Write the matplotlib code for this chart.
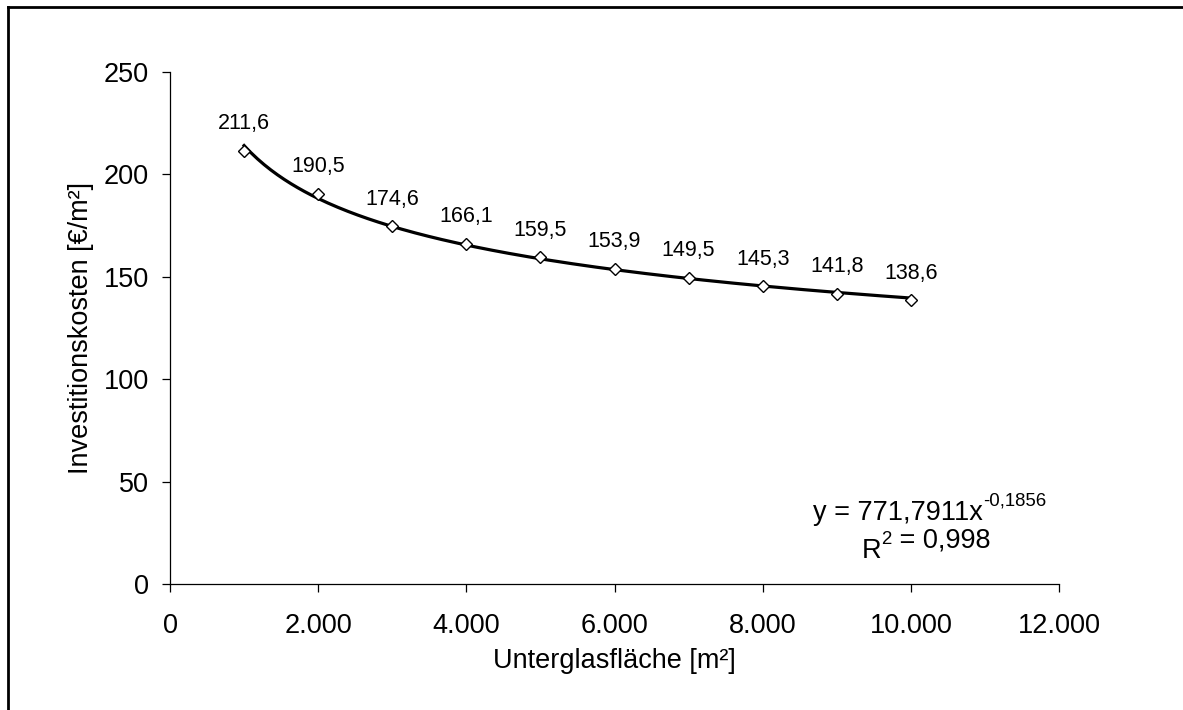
import matplotlib.pyplot as plt
import numpy as np
from matplotlib.lines import Line2D
from matplotlib.ticker import FuncFormatter, MultipleLocator

plt.rcParams['font.family'] = ['Liberation Sans', 'DejaVu Sans']

# Unterglasfläche [m²] und Investitionskosten [€/m²]
flaeche = [1000, 2000, 3000, 4000, 5000, 6000, 7000, 8000, 9000, 10000]
kosten = [211.6, 190.5, 174.6, 166.1, 159.5, 153.9, 149.5, 145.3, 141.8, 138.6]

gleichung = 'y = 771,7911x'
exponent = '-0,1856'
bestimmtheit = ' = 0,998'


def de_zahl(v, nachkomma=0):
    s = f'{v:,.{nachkomma}f}'
    return s.replace(',', '#').replace('.', ',').replace('#', '.')


fig = plt.figure(figsize=(11.83, 7.10), dpi=100)
ax = fig.add_axes([170 / 1183, 126 / 710, 889 / 1183, 512 / 710])

# Potenz-Trendlinie (wie Excel: lineare Regression im log-log-Raum)
b, ln_a = np.polyfit(np.log(flaeche), np.log(kosten), 1)
x_fit = np.linspace(flaeche[0], flaeche[-1], 200)
ax.plot(x_fit, np.exp(ln_a) * x_fit ** b, color='black', lw=2.3, zorder=2)

ax.plot(flaeche, kosten, ls='none', marker='D', ms=6.5, mfc='white',
        mec='black', mew=1.0, zorder=3)

for x, y in zip(flaeche, kosten):
    ax.annotate(de_zahl(y, 1), (x, y), xytext=(0, 15.5), textcoords='offset points',
                ha='center', va='baseline', fontsize=15.5)

ax.set_xlim(0, 12000)
ax.set_ylim(0, 250)
ax.xaxis.set_major_locator(MultipleLocator(2000))
ax.yaxis.set_major_locator(MultipleLocator(50))
ax.xaxis.set_major_formatter(FuncFormatter(lambda v, p: de_zahl(v)))

for s in ['top', 'right']:
    ax.spines[s].set_visible(False)
for s in ['left', 'bottom']:
    ax.spines[s].set_linewidth(0.9)
ax.tick_params(direction='out', length=6, width=0.9, labelsize=19.5)
ax.tick_params(axis='x', pad=15)
ax.tick_params(axis='y', pad=9)

ax.set_xlabel('Unterglasfläche [m²]', fontsize=19.5, labelpad=6)
ax.set_ylabel('Investitionskosten [€/m²]', fontsize=19.5, labelpad=7)

# Trendlinien-Gleichung
t1 = ax.text(0.9145, 0.125, gleichung, transform=ax.transAxes,
             ha='right', va='baseline', fontsize=19.5)
ax.annotate(exponent, xy=(1, 0.78), xycoords=t1, ha='left', va='baseline',
            fontsize=13.4)
t2 = ax.text(0.778, 0.051, 'R', transform=ax.transAxes,
             ha='left', va='baseline', fontsize=19.5)
t3 = ax.annotate('2', xy=(1, 0.78), xycoords=t2, ha='left', va='baseline',
                 fontsize=13.4)
ax.annotate(bestimmtheit, xy=(1, 0), xycoords=t3, ha='left', va='baseline',
            fontsize=19.5)

# Rahmen um das Diagramm
fx = 8 / 1183
fy = 1 - 7 / 710
fig.add_artist(Line2D([fx, 1.01], [fy, fy], transform=fig.transFigure,
                      color='black', lw=2))
fig.add_artist(Line2D([fx, fx], [fy, -0.01], transform=fig.transFigure,
                      color='black', lw=2))

fig.savefig('out.png', dpi=100)
